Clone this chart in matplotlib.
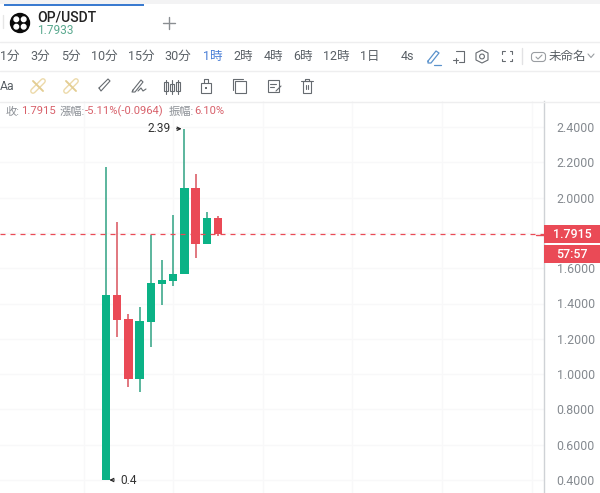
import numpy as np
import matplotlib
matplotlib.use('Agg')
import matplotlib.pyplot as plt
from matplotlib.patches import Rectangle, Circle, Polygon, FancyBboxPatch

plt.rcParams['font.family'] = ['Roboto', 'Noto Sans CJK JP', 'DejaVu Sans']

W, H = 600, 493
GREEN = '#0bb286'
RED = '#ea4a56'
GREEN_WICK = '#2fa283'
RED_WICK = '#d9525d'
GREY = '#858a90'
ICON = '#666b70'

# candles
opens = [0.40, 1.448, 1.31, 0.974, 1.297, 1.512, 1.529, 1.567, 2.054, 1.737, 1.886]
closes = [1.448, 1.308, 0.974, 1.30, 1.516, 1.533, 1.569, 2.054, 1.737, 1.886, 1.7915]
highs = [2.173, 1.863, 1.34, 1.382, 1.788, 1.646, 1.90, 2.39, 2.134, 1.918, 1.896]
lows = [0.40, 1.212, 0.929, 0.90, 1.153, 1.39, 1.50, 1.567, 1.66, 1.737, 1.78]

price_ticks = [2.4, 2.2, 2.0, 1.8, 1.6, 1.4, 1.2, 1.0, 0.8, 0.6, 0.4]
last_price = 1.7915
countdown = '57:57'
timeframes = ['1分', '3分', '5分', '10分', '15分', '30分', '1時', '2時', '4時', '6時', '12時', '1日', '4s']
timeframe_x = [10, 40, 71, 104, 141, 178, 213, 243, 273, 303, 336, 370, 407]

fig = plt.figure(figsize=(W / 100, H / 100), dpi=100, facecolor='white')

# price chart, y scale calibrated on the tick labels
ax = fig.add_axes([0, 0, 544 / W, (H - 101) / H])
ax.set_xlim((0 - 106) / 11.2, (544 - 106) / 11.2)
ax.set_ylim(0.4 - 13 / 176.5, 0.4 + 379 / 176.5)
ax.set_facecolor('white')
for name in ['top', 'left', 'bottom']:
    ax.spines[name].set_visible(False)
ax.spines['right'].set_color('#cfd2d6')
ax.spines['right'].set_linewidth(1)

ax.yaxis.tick_right()
ax.set_yticks(price_ticks)
ax.set_yticklabels(['' if p == 1.8 else f'{p:.4f}' for p in price_ticks],
                   fontsize=8.9, color=GREY)
ax.tick_params(axis='y', length=0, pad=9)
ax.set_xticks(np.arange(-2, 40, 8))
ax.tick_params(axis='x', length=0, labelbottom=False)
ax.grid(True, color='#f8f8f9', linewidth=1)
ax.set_axisbelow(True)

for i in range(len(opens)):
    rising = closes[i] >= opens[i]
    ax.vlines(i, lows[i], highs[i], color=GREEN_WICK if rising else RED_WICK, linewidth=1.1, zorder=2)
    bottom = min(opens[i], closes[i])
    ax.bar(i, abs(closes[i] - opens[i]), bottom=bottom, width=0.74,
           color=GREEN if rising else RED, zorder=3)

ax.axhline(last_price, color=RED, linewidth=0.9, linestyle=(0, (4, 4)), zorder=4)

ax.annotate('2.39', xy=(6.75, max(highs)), xytext=(5.8, max(highs)), fontsize=8.6, color='#333333',
            ha='right', va='center',
            arrowprops=dict(arrowstyle='->', color='#222222', lw=0.8, shrinkA=2, shrinkB=0, mutation_scale=6))
ax.annotate('0.4', xy=(0.3, min(opens)), xytext=(1.25, min(opens)), fontsize=8.6, color='#333333',
            ha='left', va='center',
            arrowprops=dict(arrowstyle='->', color='#222222', lw=0.8, shrinkA=2, shrinkB=0, mutation_scale=6))

# page chrome in pixel coordinates
ui = fig.add_axes([0, 0, 1, 1], facecolor='none')
ui.set_xlim(0, W)
ui.set_ylim(H, 0)
ui.axis('off')


def seg(xs, ys, color=ICON, lw=0.8):
    ui.plot(xs, ys, color=color, linewidth=lw, solid_capstyle='round')


def box(x, y, w, h, color=ICON, fill=False, lw=0.8):
    ui.add_patch(Rectangle((x, y), w, h, facecolor=color if fill else 'none',
                           edgecolor='none' if fill else color, linewidth=0 if fill else lw))


box(0, 0, W, 3.5, '#f3f3f4', True)
box(4, 3.5, 140, 2.8, '#3a7bd0', True)
for y in [41.5, 70.5, 101.5]:
    seg([0, W], [y, y], '#eeeeef', 1)
seg([3, 3], [15, 28], '#e6e6e6', 1)
seg([522, 522], [48, 64], '#e2e2e4', 1)

# coin logo
ui.add_patch(Circle((20, 23), 9.5, color='#0a0a0a'))
for dx, dy in [(-3.7, -3.7), (3.7, -3.7), (-3.7, 3.7), (3.7, 3.7)]:
    ui.add_patch(Circle((20 + dx, 23 + dy), 2.3, color='white'))

ui.text(37, 17, 'OP/USDT', fontsize=10, color='#222222', va='center', ha='left', fontweight='medium')
ui.text(37.5, 30.5, '1.7933', fontsize=8.6, color='#5aa98f', va='center', ha='left')
seg([163, 175], [23, 23], '#8a8e92', 1)
seg([169, 169], [17, 29], '#8a8e92', 1)

for label, x in zip(timeframes, timeframe_x):
    ui.text(x, 56.5, label, fontsize=9, ha='center', va='center',
            color='#4a7fd6' if label == '1時' else '#5a6066')

# toolbar row 1, right side
seg([428, 436, 439, 431, 428, 428], [61, 51, 53, 63, 63, 61], '#5a92cc', 0.9)
seg([434, 441], [64.5, 64.5], '#5a92cc', 0.9)
seg([456, 464, 464, 459], [51, 51, 62, 62], ICON)
seg([453, 458], [60, 60], ICON)
seg([455.5, 455.5], [58, 63], ICON)
ui.add_patch(Polygon([(482, 50), (488, 53), (488, 60), (482, 63), (476, 60), (476, 53)],
                     fill=False, edgecolor=ICON, linewidth=0.8))
ui.add_patch(Circle((482, 56.5), 2.4, fill=False, edgecolor=ICON, linewidth=0.8))
for sx, sy in [(502, 51), (512, 51), (502, 61), (512, 61)]:
    xdir = 1 if sx < 507 else -1
    ydir = 1 if sy < 56 else -1
    seg([sx + 2.5 * xdir, sx, sx], [sy, sy, sy + 2.5 * ydir], ICON)
ui.add_patch(FancyBboxPatch((533, 54), 11, 6, boxstyle='round,pad=1.5,rounding_size=3',
                            fill=False, edgecolor='#9a9ea2', linewidth=0.8))
seg([536, 538, 542], [57, 59, 55], '#9a9ea2')
ui.text(549, 56, '未命名', fontsize=9, color='#5a6066', ha='left', va='center')
seg([588, 591, 594], [54, 57.5, 54], '#9a9ea2')

# toolbar row 2, drawing tools
ui.text(0, 86.5, 'Aa', fontsize=8.8, color='#5a6066', ha='left', va='center')
for cx in [38, 71]:
    seg([cx - 5, cx + 5], [91, 81], '#ecd9a8', 4.2)
    seg([cx - 5, cx + 5], [91, 81], '#ffffff', 2.2)
    seg([cx - 5, cx + 5], [81, 91], '#e3cd92', 1.4)
seg([99, 108, 110, 101, 99], [88, 79, 81, 91, 88], ICON)
seg([133, 141, 143, 135, 132, 133], [90, 80, 82, 92, 92, 90], ICON)
seg([138, 141, 143, 146], [91, 88, 91, 89], ICON)
for dx, y0, y1 in [(-6, 82, 91), (0, 84, 91), (6, 82, 91)]:
    seg([172 + dx, 172 + dx], [80, 94], ICON)
    box(172 + dx - 1.8, y0, 3.6, y1 - y0, ICON)
box(201, 83, 10, 10)
seg([204, 204, 208, 208], [83, 79, 79, 83], ICON)
box(205.3, 87, 1.2, 2, ICON, True)
box(235, 81, 11, 12)
seg([233, 233, 243], [90, 79, 79], ICON)
box(268, 80, 11, 12)
seg([270, 276], [84, 84], ICON)
seg([270, 274], [87, 87], ICON)
seg([276, 281], [91, 86], ICON)
seg([301, 313], [81, 81], ICON)
box(303, 81, 8, 12)
seg([305, 305, 309, 309], [81, 79, 79, 81], ICON)
seg([306, 306], [85, 89], ICON)
seg([308, 308], [85, 89], ICON)

# status line
ui.text(6, 111.5, '收:', fontsize=8.1, color='#8c9096', va='center')
ui.text(21, 111.5, f'{last_price}', fontsize=8.1, color='#d8606a', va='center')
ui.text(60, 111.5, '漲幅:', fontsize=8.1, color='#8c9096', va='center')
ui.text(85, 111.5, '-5.11%(-0.0964)', fontsize=8.1, color='#d8606a', va='center')
ui.text(169, 111.5, '振幅:', fontsize=8.1, color='#8c9096', va='center')
ui.text(194, 111.5, '6.10%', fontsize=8.1, color='#d8606a', va='center')

# last price and countdown tags
seg([536, 544], [234.5, 234.5], RED, 1)
box(544, 225, 56, 18, RED, True)
box(544, 245, 56, 18, RED, True)
ui.text(572, 234.5, f'{last_price}', fontsize=8.9, color='white', ha='center', va='center', fontweight='medium')
ui.text(572, 254, countdown, fontsize=8.9, color='white', ha='center', va='center', fontweight='medium')

fig.savefig('out.png', dpi=100)
